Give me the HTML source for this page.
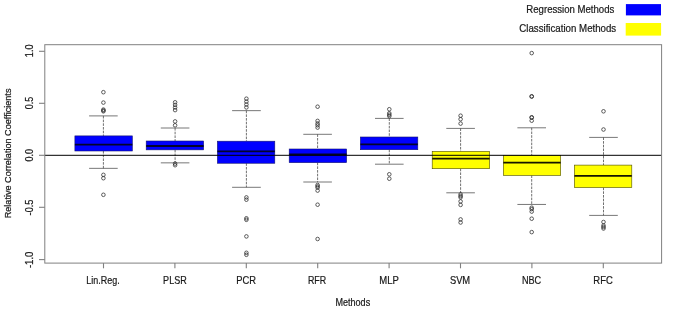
<!DOCTYPE html>
<html><head><meta charset="utf-8"><title>Boxplot</title>
<style>html,body{margin:0;padding:0;background:#fff;overflow:hidden}svg{display:block}text{font-family:"Liberation Sans",sans-serif}</style></head>
<body>
<svg width="685" height="319" viewBox="0 0 685 319">
<rect width="685" height="319" fill="#fff"/>
<line x1="103.4" y1="115.9" x2="103.4" y2="135.9" stroke="#333" stroke-width="0.7" stroke-dasharray="2.6,1.1"/>
<line x1="103.4" y1="151.0" x2="103.4" y2="168.35" stroke="#333" stroke-width="0.7" stroke-dasharray="2.6,1.1"/>
<line x1="89.1" y1="115.9" x2="117.7" y2="115.9" stroke="#4a4a4a" stroke-width="0.75"/>
<line x1="89.1" y1="168.35" x2="117.7" y2="168.35" stroke="#4a4a4a" stroke-width="0.75"/>
<rect x="74.9" y="135.9" width="57.4" height="15.10" fill="#0000ff" stroke="#14146e" stroke-width="0.6"/>
<line x1="74.9" y1="144.6" x2="132.3" y2="144.6" stroke="#04042a" stroke-width="1.8"/>
<circle cx="103.4" cy="92.2" r="1.8" fill="none" stroke="#2a2a2a" stroke-width="0.75"/>
<circle cx="103.4" cy="102.6" r="1.8" fill="none" stroke="#2a2a2a" stroke-width="0.75"/>
<circle cx="103.4" cy="109.6" r="1.8" fill="none" stroke="#2a2a2a" stroke-width="0.75"/>
<circle cx="103.4" cy="110.5" r="1.8" fill="none" stroke="#2a2a2a" stroke-width="0.75"/>
<circle cx="103.4" cy="111.3" r="1.8" fill="none" stroke="#2a2a2a" stroke-width="0.75"/>
<circle cx="103.4" cy="174.85" r="1.8" fill="none" stroke="#2a2a2a" stroke-width="0.75"/>
<circle cx="103.4" cy="178.2" r="1.8" fill="none" stroke="#2a2a2a" stroke-width="0.75"/>
<circle cx="103.4" cy="194.8" r="1.8" fill="none" stroke="#2a2a2a" stroke-width="0.75"/>
<line x1="175.1" y1="128.0" x2="175.1" y2="141.0" stroke="#333" stroke-width="0.7" stroke-dasharray="2.6,1.1"/>
<line x1="175.1" y1="149.85" x2="175.1" y2="162.85" stroke="#333" stroke-width="0.7" stroke-dasharray="2.6,1.1"/>
<line x1="160.8" y1="128.0" x2="189.4" y2="128.0" stroke="#4a4a4a" stroke-width="0.75"/>
<line x1="160.8" y1="162.85" x2="189.4" y2="162.85" stroke="#4a4a4a" stroke-width="0.75"/>
<rect x="146.2" y="141.0" width="57.4" height="8.85" fill="#0000ff" stroke="#14146e" stroke-width="0.6"/>
<line x1="146.2" y1="146.0" x2="203.6" y2="146.0" stroke="#04042a" stroke-width="1.8"/>
<circle cx="175.1" cy="102.3" r="1.8" fill="none" stroke="#2a2a2a" stroke-width="0.75"/>
<circle cx="175.1" cy="104.9" r="1.8" fill="none" stroke="#2a2a2a" stroke-width="0.75"/>
<circle cx="175.1" cy="107.5" r="1.8" fill="none" stroke="#2a2a2a" stroke-width="0.75"/>
<circle cx="175.1" cy="110.1" r="1.8" fill="none" stroke="#2a2a2a" stroke-width="0.75"/>
<circle cx="175.1" cy="121.4" r="1.8" fill="none" stroke="#2a2a2a" stroke-width="0.75"/>
<circle cx="175.1" cy="125.3" r="1.8" fill="none" stroke="#2a2a2a" stroke-width="0.75"/>
<circle cx="175.1" cy="163.6" r="1.8" fill="none" stroke="#2a2a2a" stroke-width="0.75"/>
<circle cx="175.1" cy="165.2" r="1.8" fill="none" stroke="#2a2a2a" stroke-width="0.75"/>
<line x1="246.4" y1="110.65" x2="246.4" y2="141.2" stroke="#333" stroke-width="0.7" stroke-dasharray="2.6,1.1"/>
<line x1="246.4" y1="163.25" x2="246.4" y2="187.3" stroke="#333" stroke-width="0.7" stroke-dasharray="2.6,1.1"/>
<line x1="232.1" y1="110.65" x2="260.8" y2="110.65" stroke="#4a4a4a" stroke-width="0.75"/>
<line x1="232.1" y1="187.3" x2="260.8" y2="187.3" stroke="#4a4a4a" stroke-width="0.75"/>
<rect x="217.4" y="141.2" width="57.4" height="22.05" fill="#0000ff" stroke="#14146e" stroke-width="0.6"/>
<line x1="217.4" y1="151.4" x2="274.8" y2="151.4" stroke="#04042a" stroke-width="1.8"/>
<circle cx="246.4" cy="98.7" r="1.8" fill="none" stroke="#2a2a2a" stroke-width="0.75"/>
<circle cx="246.4" cy="101.6" r="1.8" fill="none" stroke="#2a2a2a" stroke-width="0.75"/>
<circle cx="246.4" cy="104.5" r="1.8" fill="none" stroke="#2a2a2a" stroke-width="0.75"/>
<circle cx="246.4" cy="107.4" r="1.8" fill="none" stroke="#2a2a2a" stroke-width="0.75"/>
<circle cx="246.4" cy="197.4" r="1.8" fill="none" stroke="#2a2a2a" stroke-width="0.75"/>
<circle cx="246.4" cy="199.7" r="1.8" fill="none" stroke="#2a2a2a" stroke-width="0.75"/>
<circle cx="246.4" cy="218.3" r="1.8" fill="none" stroke="#2a2a2a" stroke-width="0.75"/>
<circle cx="246.4" cy="219.8" r="1.8" fill="none" stroke="#2a2a2a" stroke-width="0.75"/>
<circle cx="246.4" cy="236.4" r="1.8" fill="none" stroke="#2a2a2a" stroke-width="0.75"/>
<circle cx="246.4" cy="252.8" r="1.8" fill="none" stroke="#2a2a2a" stroke-width="0.75"/>
<circle cx="246.4" cy="254.8" r="1.8" fill="none" stroke="#2a2a2a" stroke-width="0.75"/>
<line x1="317.6" y1="134.3" x2="317.6" y2="149.0" stroke="#333" stroke-width="0.7" stroke-dasharray="2.6,1.1"/>
<line x1="317.6" y1="162.65" x2="317.6" y2="182.0" stroke="#333" stroke-width="0.7" stroke-dasharray="2.6,1.1"/>
<line x1="303.3" y1="134.3" x2="331.9" y2="134.3" stroke="#4a4a4a" stroke-width="0.75"/>
<line x1="303.3" y1="182.0" x2="331.9" y2="182.0" stroke="#4a4a4a" stroke-width="0.75"/>
<rect x="289.2" y="149.0" width="57.4" height="13.65" fill="#0000ff" stroke="#14146e" stroke-width="0.6"/>
<line x1="289.2" y1="154.4" x2="346.6" y2="154.4" stroke="#04042a" stroke-width="1.8"/>
<circle cx="317.6" cy="106.7" r="1.8" fill="none" stroke="#2a2a2a" stroke-width="0.75"/>
<circle cx="317.6" cy="120.9" r="1.8" fill="none" stroke="#2a2a2a" stroke-width="0.75"/>
<circle cx="317.6" cy="123.5" r="1.8" fill="none" stroke="#2a2a2a" stroke-width="0.75"/>
<circle cx="317.6" cy="125.3" r="1.8" fill="none" stroke="#2a2a2a" stroke-width="0.75"/>
<circle cx="317.6" cy="127.6" r="1.8" fill="none" stroke="#2a2a2a" stroke-width="0.75"/>
<circle cx="317.6" cy="185.0" r="1.8" fill="none" stroke="#2a2a2a" stroke-width="0.75"/>
<circle cx="317.6" cy="186.4" r="1.8" fill="none" stroke="#2a2a2a" stroke-width="0.75"/>
<circle cx="317.6" cy="187.6" r="1.8" fill="none" stroke="#2a2a2a" stroke-width="0.75"/>
<circle cx="317.6" cy="190.6" r="1.8" fill="none" stroke="#2a2a2a" stroke-width="0.75"/>
<circle cx="317.6" cy="204.7" r="1.8" fill="none" stroke="#2a2a2a" stroke-width="0.75"/>
<circle cx="317.6" cy="239" r="1.8" fill="none" stroke="#2a2a2a" stroke-width="0.75"/>
<line x1="389.3" y1="118.4" x2="389.3" y2="137.0" stroke="#333" stroke-width="0.7" stroke-dasharray="2.6,1.1"/>
<line x1="389.3" y1="149.7" x2="389.3" y2="164.2" stroke="#333" stroke-width="0.7" stroke-dasharray="2.6,1.1"/>
<line x1="375.0" y1="118.4" x2="403.6" y2="118.4" stroke="#4a4a4a" stroke-width="0.75"/>
<line x1="375.0" y1="164.2" x2="403.6" y2="164.2" stroke="#4a4a4a" stroke-width="0.75"/>
<rect x="360.4" y="137.0" width="57.4" height="12.70" fill="#0000ff" stroke="#14146e" stroke-width="0.6"/>
<line x1="360.4" y1="144.4" x2="417.8" y2="144.4" stroke="#04042a" stroke-width="1.8"/>
<circle cx="389.3" cy="109.25" r="1.8" fill="none" stroke="#2a2a2a" stroke-width="0.75"/>
<circle cx="389.3" cy="113.3" r="1.8" fill="none" stroke="#2a2a2a" stroke-width="0.75"/>
<circle cx="389.3" cy="114.8" r="1.8" fill="none" stroke="#2a2a2a" stroke-width="0.75"/>
<circle cx="389.3" cy="116.2" r="1.8" fill="none" stroke="#2a2a2a" stroke-width="0.75"/>
<circle cx="389.3" cy="174.3" r="1.8" fill="none" stroke="#2a2a2a" stroke-width="0.75"/>
<circle cx="389.3" cy="178.7" r="1.8" fill="none" stroke="#2a2a2a" stroke-width="0.75"/>
<line x1="460.6" y1="128.4" x2="460.6" y2="151.4" stroke="#333" stroke-width="0.7" stroke-dasharray="2.6,1.1"/>
<line x1="460.6" y1="168.7" x2="460.6" y2="192.8" stroke="#333" stroke-width="0.7" stroke-dasharray="2.6,1.1"/>
<line x1="446.3" y1="128.4" x2="474.9" y2="128.4" stroke="#4a4a4a" stroke-width="0.75"/>
<line x1="446.3" y1="192.8" x2="474.9" y2="192.8" stroke="#4a4a4a" stroke-width="0.75"/>
<rect x="432.2" y="151.4" width="57.4" height="17.30" fill="#ffff00" stroke="#4a4a00" stroke-width="0.6"/>
<line x1="432.2" y1="158.55" x2="489.6" y2="158.55" stroke="#141400" stroke-width="1.8"/>
<circle cx="460.6" cy="115.7" r="1.8" fill="none" stroke="#2a2a2a" stroke-width="0.75"/>
<circle cx="460.6" cy="119.2" r="1.8" fill="none" stroke="#2a2a2a" stroke-width="0.75"/>
<circle cx="460.6" cy="123.6" r="1.8" fill="none" stroke="#2a2a2a" stroke-width="0.75"/>
<circle cx="460.6" cy="194.4" r="1.8" fill="none" stroke="#2a2a2a" stroke-width="0.75"/>
<circle cx="460.6" cy="196.05" r="1.8" fill="none" stroke="#2a2a2a" stroke-width="0.75"/>
<circle cx="460.6" cy="197.4" r="1.8" fill="none" stroke="#2a2a2a" stroke-width="0.75"/>
<circle cx="460.6" cy="201.4" r="1.8" fill="none" stroke="#2a2a2a" stroke-width="0.75"/>
<circle cx="460.6" cy="204.9" r="1.8" fill="none" stroke="#2a2a2a" stroke-width="0.75"/>
<circle cx="460.6" cy="219.4" r="1.8" fill="none" stroke="#2a2a2a" stroke-width="0.75"/>
<circle cx="460.6" cy="222.5" r="1.8" fill="none" stroke="#2a2a2a" stroke-width="0.75"/>
<line x1="531.7" y1="127.8" x2="531.7" y2="155.3" stroke="#333" stroke-width="0.7" stroke-dasharray="2.6,1.1"/>
<line x1="531.7" y1="175.4" x2="531.7" y2="204.45" stroke="#333" stroke-width="0.7" stroke-dasharray="2.6,1.1"/>
<line x1="517.4" y1="127.8" x2="546.0" y2="127.8" stroke="#4a4a4a" stroke-width="0.75"/>
<line x1="517.4" y1="204.45" x2="546.0" y2="204.45" stroke="#4a4a4a" stroke-width="0.75"/>
<rect x="503.3" y="155.3" width="57.4" height="20.10" fill="#ffff00" stroke="#4a4a00" stroke-width="0.6"/>
<line x1="503.3" y1="162.55" x2="560.7" y2="162.55" stroke="#141400" stroke-width="1.8"/>
<circle cx="531.7" cy="53.1" r="1.8" fill="none" stroke="#2a2a2a" stroke-width="0.75"/>
<circle cx="531.7" cy="96.3" r="1.8" fill="none" stroke="#2a2a2a" stroke-width="0.75"/>
<circle cx="531.7" cy="96.6" r="1.8" fill="none" stroke="#2a2a2a" stroke-width="0.75"/>
<circle cx="531.7" cy="117.3" r="1.8" fill="none" stroke="#2a2a2a" stroke-width="0.75"/>
<circle cx="531.7" cy="117.6" r="1.8" fill="none" stroke="#2a2a2a" stroke-width="0.75"/>
<circle cx="531.7" cy="120.7" r="1.8" fill="none" stroke="#2a2a2a" stroke-width="0.75"/>
<circle cx="531.7" cy="207.7" r="1.8" fill="none" stroke="#2a2a2a" stroke-width="0.75"/>
<circle cx="531.7" cy="209.1" r="1.8" fill="none" stroke="#2a2a2a" stroke-width="0.75"/>
<circle cx="531.7" cy="211.6" r="1.8" fill="none" stroke="#2a2a2a" stroke-width="0.75"/>
<circle cx="531.7" cy="218.7" r="1.8" fill="none" stroke="#2a2a2a" stroke-width="0.75"/>
<circle cx="531.7" cy="232.1" r="1.8" fill="none" stroke="#2a2a2a" stroke-width="0.75"/>
<line x1="603.5" y1="137.4" x2="603.5" y2="165.1" stroke="#333" stroke-width="0.7" stroke-dasharray="2.6,1.1"/>
<line x1="603.5" y1="187.6" x2="603.5" y2="215.4" stroke="#333" stroke-width="0.7" stroke-dasharray="2.6,1.1"/>
<line x1="589.2" y1="137.4" x2="617.8" y2="137.4" stroke="#4a4a4a" stroke-width="0.75"/>
<line x1="589.2" y1="215.4" x2="617.8" y2="215.4" stroke="#4a4a4a" stroke-width="0.75"/>
<rect x="574.4" y="165.1" width="57.4" height="22.50" fill="#ffff00" stroke="#4a4a00" stroke-width="0.6"/>
<line x1="574.4" y1="175.9" x2="631.8" y2="175.9" stroke="#141400" stroke-width="1.8"/>
<circle cx="603.5" cy="111.3" r="1.8" fill="none" stroke="#2a2a2a" stroke-width="0.75"/>
<circle cx="603.5" cy="129.5" r="1.8" fill="none" stroke="#2a2a2a" stroke-width="0.75"/>
<circle cx="603.5" cy="222.0" r="1.8" fill="none" stroke="#2a2a2a" stroke-width="0.75"/>
<circle cx="603.5" cy="225.5" r="1.8" fill="none" stroke="#2a2a2a" stroke-width="0.75"/>
<circle cx="603.5" cy="227.0" r="1.8" fill="none" stroke="#2a2a2a" stroke-width="0.75"/>
<circle cx="603.5" cy="228.5" r="1.8" fill="none" stroke="#2a2a2a" stroke-width="0.75"/>
<line x1="44.8" y1="155.3" x2="661.6" y2="155.3" stroke="#000" stroke-width="1"/>
<rect x="44.8" y="44.7" width="616.8" height="218.4" fill="none" stroke="#808080" stroke-width="1"/>
<line x1="39.0" y1="51.3" x2="44.8" y2="51.3" stroke="#808080" stroke-width="1.1"/>
<text transform="translate(33.0,50.81) rotate(-90) scale(0.9094,1)" text-anchor="middle" font-size="10.0" fill="#1a1a1a" stroke="#1a1a1a" stroke-width="0.22">1.0</text>
<line x1="39.0" y1="103.3" x2="44.8" y2="103.3" stroke="#808080" stroke-width="1.1"/>
<text transform="translate(33.0,102.98) rotate(-90) scale(0.8932,1)" text-anchor="middle" font-size="10.0" fill="#1a1a1a" stroke="#1a1a1a" stroke-width="0.22">0.5</text>
<line x1="39.0" y1="155.3" x2="44.8" y2="155.3" stroke="#808080" stroke-width="1.1"/>
<text transform="translate(33.0,155.28) rotate(-90) scale(0.8978,1)" text-anchor="middle" font-size="10.0" fill="#1a1a1a" stroke="#1a1a1a" stroke-width="0.22">0.0</text>
<line x1="39.0" y1="207.3" x2="44.8" y2="207.3" stroke="#808080" stroke-width="1.1"/>
<text transform="translate(33.0,207.48) rotate(-90) scale(0.9216,1)" text-anchor="middle" font-size="10.0" fill="#1a1a1a" stroke="#1a1a1a" stroke-width="0.22">-0.5</text>
<line x1="39.0" y1="259.6" x2="44.8" y2="259.6" stroke="#808080" stroke-width="1.1"/>
<text transform="translate(33.0,259.82) rotate(-90) scale(0.9653,1)" text-anchor="middle" font-size="10.0" fill="#1a1a1a" stroke="#1a1a1a" stroke-width="0.22">-1.0</text>
<line x1="103.5" y1="263.1" x2="103.5" y2="268.3" stroke="#808080" stroke-width="1.1"/>
<text transform="translate(102.9,284.2) scale(0.8728,1)" text-anchor="middle" font-size="10.3" fill="#1a1a1a" stroke="#1a1a1a" stroke-width="0.22">Lin.Reg.</text>
<line x1="174.9" y1="263.1" x2="174.9" y2="268.3" stroke="#808080" stroke-width="1.1"/>
<text transform="translate(174.93,284.2) scale(0.8778,1)" text-anchor="middle" font-size="10.3" fill="#1a1a1a" stroke="#1a1a1a" stroke-width="0.22">PLSR</text>
<line x1="246.3" y1="263.1" x2="246.3" y2="268.3" stroke="#808080" stroke-width="1.1"/>
<text transform="translate(246.1,284.2) scale(0.9073,1)" text-anchor="middle" font-size="10.3" fill="#1a1a1a" stroke="#1a1a1a" stroke-width="0.22">PCR</text>
<line x1="317.7" y1="263.1" x2="317.7" y2="268.3" stroke="#808080" stroke-width="1.1"/>
<text transform="translate(317.05,284.2) scale(0.8627,1)" text-anchor="middle" font-size="10.3" fill="#1a1a1a" stroke="#1a1a1a" stroke-width="0.22">RFR</text>
<line x1="389.1" y1="263.1" x2="389.1" y2="268.3" stroke="#808080" stroke-width="1.1"/>
<text transform="translate(389.05,284.2) scale(0.9246,1)" text-anchor="middle" font-size="10.3" fill="#1a1a1a" stroke="#1a1a1a" stroke-width="0.22">MLP</text>
<line x1="460.5" y1="263.1" x2="460.5" y2="268.3" stroke="#808080" stroke-width="1.1"/>
<text transform="translate(460.04,284.2) scale(0.9091,1)" text-anchor="middle" font-size="10.3" fill="#1a1a1a" stroke="#1a1a1a" stroke-width="0.22">SVM</text>
<line x1="531.9" y1="263.1" x2="531.9" y2="268.3" stroke="#808080" stroke-width="1.1"/>
<text transform="translate(531.54,284.2) scale(0.8851,1)" text-anchor="middle" font-size="10.3" fill="#1a1a1a" stroke="#1a1a1a" stroke-width="0.22">NBC</text>
<line x1="603.3" y1="263.1" x2="603.3" y2="268.3" stroke="#808080" stroke-width="1.1"/>
<text transform="translate(603.04,284.2) scale(0.9173,1)" text-anchor="middle" font-size="10.3" fill="#1a1a1a" stroke="#1a1a1a" stroke-width="0.22">RFC</text>
<text transform="translate(352.83,306.2) scale(0.8768,1)" text-anchor="middle" font-size="10.3" fill="#1a1a1a" stroke="#1a1a1a" stroke-width="0.22">Methods</text>
<text transform="translate(10.9,153.44) rotate(-90) scale(0.9901,1)" text-anchor="middle" font-size="9.2" fill="#1a1a1a" stroke="#1a1a1a" stroke-width="0.22">Relative Correlation Coefficients</text>
<rect x="625.9" y="4.1" width="35.1" height="11.3" fill="#0000ff"/>
<rect x="625.7" y="23" width="35.4" height="12.6" fill="#ffff00"/>
<text transform="translate(570.34,12.85) scale(0.9152,1)" text-anchor="middle" font-size="10.5" fill="#1a1a1a" stroke="#1a1a1a" stroke-width="0.22">Regression Methods</text>
<text transform="translate(567.75,31.7) scale(0.9241,1)" text-anchor="middle" font-size="10.5" fill="#1a1a1a" stroke="#1a1a1a" stroke-width="0.22">Classification Methods</text>
</svg>
</body></html>
